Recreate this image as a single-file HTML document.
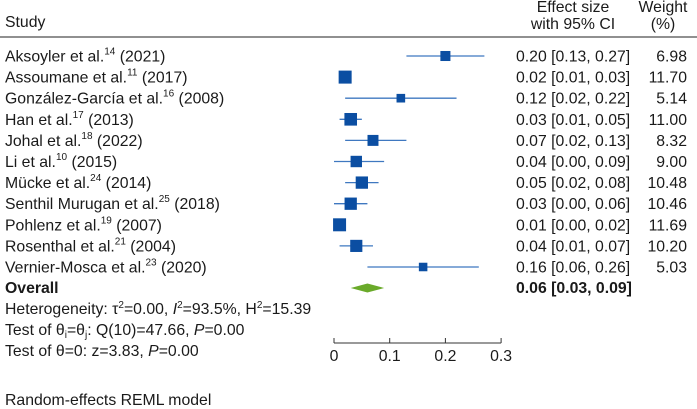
<!DOCTYPE html>
<html><head><meta charset="utf-8"><style>
body{margin:0;background:#fff;}
svg{display:block;font-family:"Liberation Sans",Arial,sans-serif;font-size:15.8px;fill:#1a1a1a;}
</style></head><body>
<svg id="c" width="697" height="409" viewBox="0 0 697 409">
<text x="5" y="27">Study</text>
<text x="573" y="12" text-anchor="middle">Effect size</text>
<text x="573" y="29" text-anchor="middle">with 95% CI</text>
<text x="663" y="12" text-anchor="middle">Weight</text>
<text x="663" y="29" text-anchor="middle">(%)</text>
<line x1="0" y1="37" x2="697" y2="37" stroke="#222" stroke-width="1"/>
<g id="rows"></g>
<text x="5" y="293" font-weight="bold">Overall</text>
<text x="516" y="293" font-weight="bold">0.06 [0.03, 0.09]</text>
<text x="5" y="314">Heterogeneity: τ<tspan dy="-6" font-size="10">2</tspan><tspan dy="6">=0.00, </tspan><tspan font-style="italic">I</tspan><tspan dy="-6" font-size="10">2</tspan><tspan dy="6">=93.5%, H</tspan><tspan dy="-6" font-size="10">2</tspan><tspan dy="6">=15.39</tspan></text>
<text x="5" y="335">Test of θ<tspan dy="3" font-size="10">i</tspan><tspan dy="-3">=θ</tspan><tspan dy="3" font-size="10">j</tspan><tspan dy="-3">: Q(10)=47.66, </tspan><tspan font-style="italic">P</tspan>=0.00</text>
<text x="5" y="356">Test of θ=0: z=3.83, <tspan font-style="italic">P</tspan>=0.00</text>
<text x="5" y="405">Random-effects REML model</text>
<g id="axis"></g>
</svg>
<script>
const studies=["Aksoyler et al.|14|(2021)","Assoumane et al.|11|(2017)","González-García et al.|16|(2008)","Han et al.|17|(2013)","Johal et al.|18|(2022)","Li et al.|10|(2015)","Mücke et al.|24|(2014)","Senthil Murugan et al.|25|(2018)","Pohlenz et al.|19|(2007)","Rosenthal et al.|21|(2004)","Vernier-Mosca et al.|23|(2020)"];
const est=[0.20,0.02,0.12,0.03,0.07,0.04,0.05,0.03,0.01,0.04,0.16];
const lo=[0.13,0.01,0.02,0.01,0.02,0.00,0.02,0.00,0.00,0.01,0.06];
const hi=[0.27,0.03,0.22,0.05,0.13,0.09,0.08,0.06,0.02,0.07,0.26];
const weights=[6.98,11.70,5.14,11.00,8.32,9.00,10.48,10.46,11.69,10.20,5.03];
const overall=[0.06,0.03,0.09];
const ticks=[0,0.1,0.2,0.3];
const NS="http://www.w3.org/2000/svg";
const x=v=>334+v*557;
const y=i=>56+i*21.1;
function mk(t,a,p){const e=document.createElementNS(NS,t);for(const k in a)e.setAttribute(k,a[k]);p.appendChild(e);return e;}
const rows=document.getElementById('rows');
studies.forEach((s,i)=>{
 const [n,sup,yr]=s.split('|');
 const t=mk('text',{x:5,y:y(i)+5.5},rows);
 
 
 t.innerHTML=n+'<tspan dy="-7" font-size="10">'+sup+'</tspan><tspan dy="7"> '+yr+'</tspan>';
 const l=mk('line',{x1:x(lo[i]),x2:x(hi[i]),y1:y(i),y2:y(i),stroke:'#3f78c0','stroke-width':1.3},rows);
 
 
 const sz=3.8*Math.sqrt(weights[i]);
 const r=mk('rect',{x:x(est[i])-sz/2,y:y(i)-sz/2,width:sz,height:sz,fill:'#0b4ea2'},rows);
 
 
 const e=mk('text',{x:516,y:y(i)+5.5},rows);
 
 
 e.textContent=est[i].toFixed(2)+' ['+lo[i].toFixed(2)+', '+hi[i].toFixed(2)+']';
 const w=mk('text',{x:687,y:y(i)+5.5,'text-anchor':'end'},rows);
 
 
 w.textContent=weights[i].toFixed(2);
});
const oy=288;
const d=mk('polygon',{points:`${x(overall[1])},${oy} ${x(overall[0])},${oy-4.5} ${x(overall[2])},${oy} ${x(overall[0])},${oy+4.5}`,fill:'#6aaa2a'},rows);


const ax=document.getElementById('axis');
const al=mk('line',{x1:x(ticks[0]),x2:x(ticks[ticks.length-1]),y1:343,y2:343,stroke:'#333','stroke-width':1},ax);


ticks.forEach(t=>{
 const tk=mk('line',{x1:x(t),x2:x(t),y1:343,y2:338,stroke:'#333','stroke-width':1},ax);
 
 
 const tl=mk('text',{x:x(t),y:361,'text-anchor':'middle'},ax);
 
 
 tl.textContent=t===0?'0':String(t);
});
</script>
</body></html>
